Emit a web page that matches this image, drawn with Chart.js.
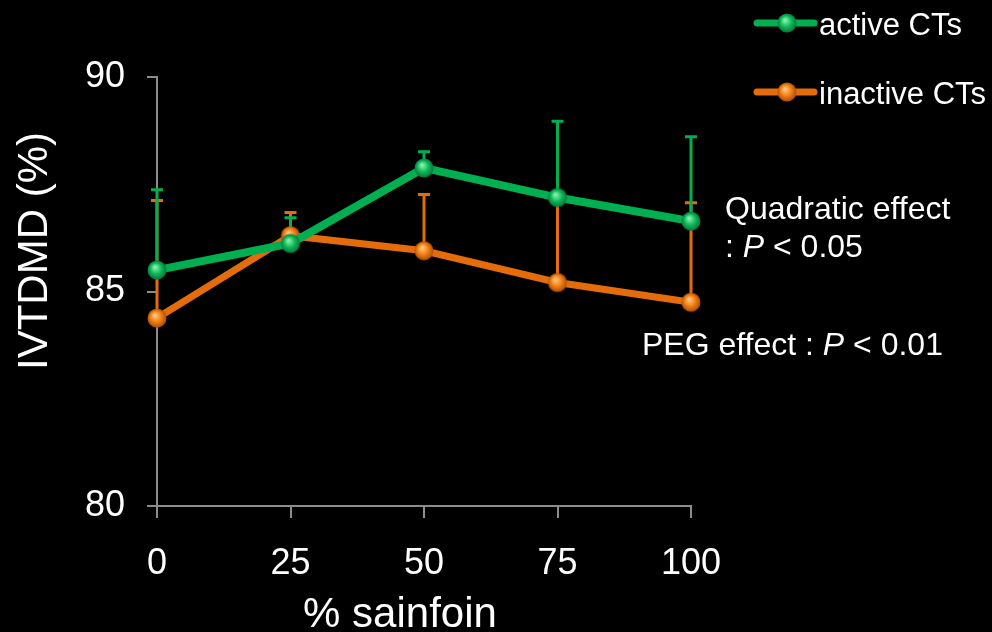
<!DOCTYPE html>
<html>
<head>
<meta charset="utf-8">
<title>IVTDMD vs % sainfoin</title>
<script src="https://cdn.jsdelivr.net/npm/chart.js@4"></script>
<style>
  html, body { margin: 0; padding: 0; background: #000; }
  #wrap { width: 992px; height: 632px; }
</style>
</head>
<body>
<div id="wrap"><canvas id="chart" width="992" height="632"></canvas></div>
<script>
// data
const sainfoin = [0, 25, 50, 75, 100];
const activeCTs = [85.5, 86.12, 87.88, 87.19, 86.64];
const activeUpper = [87.37, 86.72, 88.26, 88.97, 88.61];
const inactiveCTs = [84.38, 86.3, 85.95, 85.21, 84.75];
const inactiveUpper = [87.12, 86.84, 87.26, 87.15, 87.07];
const yTicks = [80, 85, 90];

const FONT = '"Liberation Sans", Arial, sans-serif';
const GREEN = '#00b050';
const ORANGE = '#e46c0a';
const AXIS = '#8c8c8c';

// shiny ball marker
function ball(light, mid, dark) {
  const c = document.createElement('canvas');
  c.width = 22; c.height = 22;
  const g = c.getContext('2d');
  const grad = g.createRadialGradient(9, 8, 1, 11, 11, 10);
  grad.addColorStop(0, light);
  grad.addColorStop(0.5, mid);
  grad.addColorStop(1, dark);
  g.fillStyle = grad;
  g.beginPath();
  g.arc(11, 11, 9.5, 0, Math.PI * 2);
  g.fill();
  return c;
}
const greenBall = ball('#7ff0a8', '#10b858', '#00703a');
const orangeBall = ball('#ffc27a', '#f07f14', '#a84800');

const toXY = (vals) => vals.map((v, i) => ({ x: sainfoin[i], y: v }));

const errorBars = {
  id: 'errorBars',
  beforeDatasetsDraw(chart) {
    const ctx = chart.ctx;
    const xs = chart.scales.x, ys = chart.scales.y;
    const sets = [[inactiveCTs, inactiveUpper, ORANGE], [activeCTs, activeUpper, GREEN]];
    ctx.save();
    sets.forEach(([vals, upper, col]) => {
      ctx.strokeStyle = col;
      ctx.lineWidth = 3;
      vals.forEach((v, i) => {
        const x = xs.getPixelForValue(sainfoin[i]);
        const y0 = ys.getPixelForValue(v);
        const y1 = ys.getPixelForValue(upper[i]);
        ctx.beginPath();
        ctx.moveTo(x, y0); ctx.lineTo(x, y1);
        ctx.moveTo(x - 6, y1); ctx.lineTo(x + 6, y1);
        ctx.stroke();
      });
    });
    ctx.restore();
  }
};

const extras = {
  id: 'extras',
  afterDraw(chart) {
    const ctx = chart.ctx;
    ctx.save();
    ctx.fillStyle = '#fff';
    // axis titles
    ctx.font = '42px ' + FONT;
    ctx.textAlign = 'center';
    ctx.textBaseline = 'alphabetic';
    ctx.fillText('% sainfoin', 400, 627);
    ctx.save();
    ctx.translate(47, 251);
    ctx.rotate(-Math.PI / 2);
    ctx.fillText('IVTDMD (%)', 0, 0);
    ctx.restore();

    // legend
    const items = [[GREEN, greenBall, 'active CTs', 23], [ORANGE, orangeBall, 'inactive CTs', 92]];
    ctx.textAlign = 'left';
    ctx.font = '31px ' + FONT;
    items.forEach(([col, img, label, y]) => {
      ctx.strokeStyle = col;
      ctx.lineWidth = 7;
      ctx.lineCap = 'round';
      ctx.beginPath();
      ctx.moveTo(757, y); ctx.lineTo(814, y);
      ctx.stroke();
      ctx.drawImage(img, 787 - 11, y - 11);
      ctx.fillText(label, 819, y + 12);
    });

    // statistics notes
    const f = '32px ' + FONT;
    ctx.font = f;
    ctx.fillText('Quadratic effect', 725, 219);
    let x = 725;
    ctx.fillText(': ', x, 257); x += ctx.measureText(': ').width;
    ctx.font = 'italic ' + f;
    ctx.fillText('P', x, 257); x += ctx.measureText('P ').width;
    ctx.font = f;
    ctx.fillText('< 0.05', x, 257);

    x = 642;
    ctx.fillText('PEG effect : ', x, 355); x += ctx.measureText('PEG effect : ').width;
    ctx.font = 'italic ' + f;
    ctx.fillText('P', x, 355); x += ctx.measureText('P ').width;
    ctx.font = f;
    ctx.fillText('< 0.01', x, 355);
    ctx.restore();
  }
};

new Chart(document.getElementById('chart'), {
  type: 'line',
  data: {
    datasets: [
      {
        label: 'active CTs',
        data: toXY(activeCTs),
        borderColor: GREEN,
        borderWidth: 8,
        pointStyle: greenBall,
        pointRadius: 10,
        tension: 0,
        clip: false
      },
      {
        label: 'inactive CTs',
        data: toXY(inactiveCTs),
        borderColor: ORANGE,
        borderWidth: 7,
        pointStyle: orangeBall,
        pointRadius: 10,
        tension: 0,
        clip: false
      }
    ]
  },
  options: {
    responsive: false,
    animation: false,
    layout: { padding: { top: 77, right: 301, bottom: 0, left: 0 } },
    plugins: {
      legend: { display: false },
      tooltip: { enabled: false }
    },
    scales: {
      x: {
        type: 'linear',
        min: 0, max: 100,
        afterBuildTicks: (s) => { s.ticks = sainfoin.map(v => ({ value: v })); },
        afterFit: (s) => { s.height = 126; },
        grid: { drawOnChartArea: false, color: AXIS, tickLength: 12, lineWidth: 2 },
        border: { color: AXIS, width: 2 },
        ticks: { color: '#fff', font: { family: FONT, size: 36 }, padding: 24, maxRotation: 0 }
      },
      y: {
        min: 80, max: 90,
        afterBuildTicks: (s) => { s.ticks = yTicks.map(v => ({ value: v })); },
        afterFit: (s) => { s.width = 157; },
        grid: { drawOnChartArea: false, color: AXIS, tickLength: 10, lineWidth: 2 },
        border: { color: AXIS, width: 2 },
        ticks: { color: '#fff', font: { family: FONT, size: 36 }, padding: 22 }
      }
    }
  },
  plugins: [errorBars, extras]
});
</script>
</body>
</html>
